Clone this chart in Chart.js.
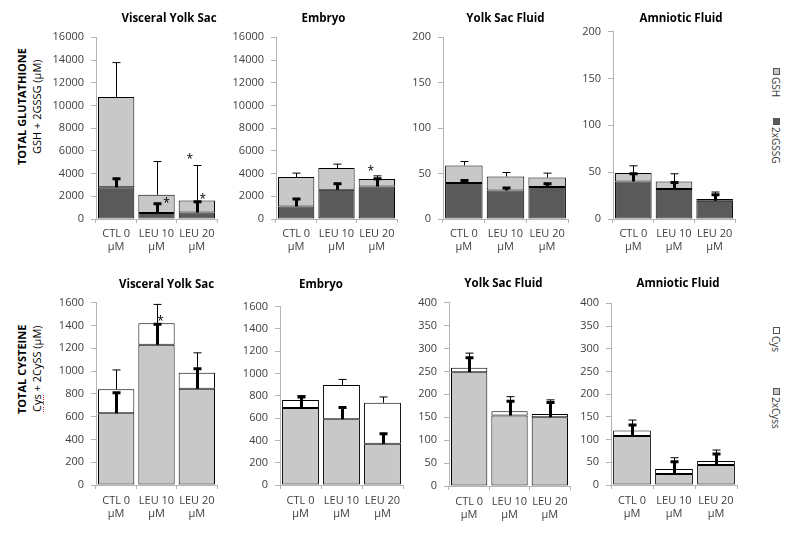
<!DOCTYPE html>
<html lang="en">
<head>
<meta charset="UTF-8">
<title>Total glutathione and cysteine</title>
<script src="https://cdn.jsdelivr.net/npm/chart.js"></script>
<style>
  body { margin: 0; background: #fff; font-family: "Open Sans", sans-serif; }
  #page { position: relative; width: 800px; height: 537px; overflow: hidden; }
  canvas { position: absolute; }
  .rowlab { position: absolute; writing-mode: vertical-rl; transform: rotate(180deg); white-space: nowrap;
            text-align: center; font-size: 11px; line-height: 15px; color: #000; }
  .rowlab b { font-size: 11px; }
  .leg { position: absolute; writing-mode: vertical-rl; font-size: 10px; color: #333; line-height: 12px; }
  .sw { display: inline-block; width: 5px; height: 5px; border: 1px solid #555; margin-bottom: 2px; }
  .spell { text-decoration: underline dotted #e02020; text-underline-position: left; }
</style>
</head>
<body>
<div id="page">
  <div class="rowlab" style="left:14px; top:27px; height:160px;"><b>TOTAL GLUTATHIONE</b><br>GSH + 2GSSG (µM)</div>
  <div class="rowlab" style="left:14px; top:289px; height:160px;"><b>TOTAL CYSTEINE</b><br><span class="spell">Cys</span> + 2CySS (µM)</div>

  <div class="leg" style="left:770px; top:68px;"><span class="sw" style="background:#c8c8c8"></span>GSH</div>
  <div class="leg" style="left:770px; top:118px;"><span class="sw" style="background:#5a5a5a"></span>2xGSSG</div>
  <div class="leg" style="left:770px; top:327px;"><span class="sw" style="background:#fff"></span>Cys</div>
  <div class="leg" style="left:770px; top:388px;"><span class="sw" style="background:#c8c8c8"></span>2xCyss</div>
</div>
<script>
    const categories = [['CTL 0', 'µM'], ['LEU 10', 'µM'], ['LEU 20', 'µM']];

    // Total glutathione: 2xGSSG (lower) and GSH (upper), µM
    const vysGSSG = [2800, 530, 580];
    const vysGSH = [7950, 1600, 1060];
    const vysGSSGsd = [740, 820, 940];
    const vysGlutSd = [3020, 2930, 3070];

    const embGSSG = [1110, 2575, 2860];
    const embGSH = [2580, 1905, 655];
    const embGSSGsd = [650, 525, 680];
    const embGlutSd = [350, 355, 285];

    const ysfGSSG = [39.5, 31.4, 35.2];
    const ysfGSH = [19.5, 15.4, 10.5];
    const ysfGSSGsd = [2.9, 2.6, 3.6];
    const ysfGlutSd = [4.3, 4.4, 4.8];

    const amfGSSG = [40, 32, 19.5];
    const amfGSH = [9, 8, 1.8];
    const amfGSSGsd = [8.3, 7, 6.5];
    const amfGlutSd = [7.8, 8.3, 7.5];

    // Total cysteine: 2xCySS (lower) and Cys (upper), µM
    const vysCySS = [630, 1230, 845];
    const vysCys = [210, 190, 140];
    const vysCySSsd = [180, 180, 175];
    const vysCystSd = [170, 165, 175];

    const embCySS = [690, 590, 370];
    const embCys = [72, 307, 368];
    const embCySSsd = [100, 105, 90];
    const embCystSd = [40, 50, 52];

    const ysfCySS = [248, 154, 150];
    const ysfCys = [10, 9, 7];
    const ysfCySSsd = [32, 31, 32];
    const ysfCystSd = [32, 32, 31];

    const amfCySS = [108, 24, 44];
    const amfCys = [12, 11, 9];
    const amfCySSsd = [24, 27, 24];
    const amfCystSd = [23, 25, 24];

    const LIGHT = '#c8c8c8';
    const DARK = '#5a5a5a';
    const AXIS = '#b4b4b4';
    Chart.defaults.font.family = '"Open Sans", sans-serif';

    // error bars: thick one on the lower segment, thin one on the stack total
    const errorBars = {
        id: 'errorBars',
        afterDatasetsDraw(chart, args, opts) {
            const ctx = chart.ctx;
            const y = chart.scales.y;
            ctx.save();
            ctx.strokeStyle = '#000';
            opts.sets.forEach(set => {
                const meta = chart.getDatasetMeta(set.ds);
                meta.data.forEach((bar, i) => {
                    let top = 0;
                    for (let d = 0; d <= set.ds; d++) top += chart.data.datasets[d].data[i];
                    const yEnd = y.getPixelForValue(top + set.sd[i]);
                    const x = set.width % 2 ? Math.round(bar.x) + 0.5 : Math.round(bar.x);
                    ctx.lineWidth = set.width;
                    ctx.beginPath();
                    ctx.moveTo(x, bar.y);
                    ctx.lineTo(x, yEnd);
                    ctx.moveTo(x - set.cap / 2, yEnd);
                    ctx.lineTo(x + set.cap / 2, yEnd);
                    ctx.stroke();
                });
            });
            ctx.restore();
        }
    };

    // significance asterisks
    const stars = {
        id: 'stars',
        afterDatasetsDraw(chart, args, opts) {
            const ctx = chart.ctx;
            const meta = chart.getDatasetMeta(0);
            ctx.save();
            ctx.fillStyle = '#000';
            ctx.font = '12px "Open Sans", sans-serif';
            ctx.textAlign = 'center';
            ctx.textBaseline = 'middle';
            (opts.list || []).forEach(s => {
                const bar = meta.data[s[0]];
                ctx.fillText('*', bar.x + s[2], chart.scales.y.getPixelForValue(s[1]) + 3);
            });
            ctx.restore();
        }
    };

    // panel title, placed where the original sits (not always centred on the plot)
    const panelTitle = {
        id: 'panelTitle',
        afterDraw(chart, args, opts) {
            const ctx = chart.ctx;
            ctx.save();
            ctx.fillStyle = '#000';
            ctx.font = 'bold 11.5px "Open Sans", sans-serif';
            ctx.textAlign = 'center';
            ctx.textBaseline = 'middle';
            ctx.fillText(opts.text, opts.x, opts.y);
            ctx.restore();
        }
    };

    const panels = [
        { title: 'Visceral Yolk Sac', tcx: 169, tcy: 19, axisX: 96, plotRight: 217, plotTop: 37.3, plotBottom: 219.3, max: 16000, step: 2000, labelPad: 4,
          lower: vysGSSG, upper: vysGSH, lowerSd: vysGSSGsd, totalSd: vysGlutSd, lowerColor: DARK, upperColor: LIGHT,
          stars: [[1, 1610, 10], [2, 5500, -7], [2, 1990, 6]] },
        { title: 'Embryo', tcx: 323.5, tcy: 19, axisX: 276, plotRight: 397, plotTop: 37.3, plotBottom: 219.3, max: 16000, step: 2000, labelPad: 4,
          lower: embGSSG, upper: embGSH, lowerSd: embGSSGsd, totalSd: embGlutSd, lowerColor: DARK, upperColor: LIGHT,
          stars: [[2, 4480, -6]] },
        { title: 'Yolk Sac Fluid', tcx: 505.5, tcy: 19, axisX: 443, plotRight: 568, plotTop: 37.3, plotBottom: 219.3, max: 200, step: 50, labelPad: 4,
          lower: ysfGSSG, upper: ysfGSH, lowerSd: ysfGSSGsd, totalSd: ysfGlutSd, lowerColor: DARK, upperColor: LIGHT, stars: [] },
        { title: 'Amniotic Fluid', tcx: 681, tcy: 19, axisX: 613, plotRight: 735, plotTop: 31.7, plotBottom: 219.3, max: 200, step: 50, labelPad: 4,
          lower: amfGSSG, upper: amfGSH, lowerSd: amfGSSGsd, totalSd: amfGlutSd, lowerColor: DARK, upperColor: LIGHT, stars: [] },

        { title: 'Visceral Yolk Sac', tcx: 166.5, tcy: 285, axisX: 96, plotRight: 217, plotTop: 302.7, plotBottom: 485.3, max: 1600, step: 200, labelPad: 5,
          lower: vysCySS, upper: vysCys, lowerSd: vysCySSsd, totalSd: vysCystSd, lowerColor: LIGHT, upperColor: '#fff',
          stars: [[1, 1464, 4]] },
        { title: 'Embryo', tcx: 321, tcy: 285, axisX: 280, plotRight: 403, plotTop: 306.7, plotBottom: 485, max: 1600, step: 200, labelPad: 5,
          lower: embCySS, upper: embCys, lowerSd: embCySSsd, totalSd: embCystSd, lowerColor: LIGHT, upperColor: '#fff', stars: [] },
        { title: 'Yolk Sac Fluid', tcx: 503.5, tcy: 284, axisX: 449, plotRight: 570, plotTop: 302.7, plotBottom: 485.7, max: 400, step: 50, labelPad: 5,
          lower: ysfCySS, upper: ysfCys, lowerSd: ysfCySSsd, totalSd: ysfCystSd, lowerColor: LIGHT, upperColor: '#fff', stars: [] },
        { title: 'Amniotic Fluid', tcx: 678, tcy: 284, axisX: 611, plotRight: 737, plotTop: 303.3, plotBottom: 485, max: 400, step: 50, labelPad: 5,
          lower: amfCySS, upper: amfCys, lowerSd: amfCySSsd, totalSd: amfCystSd, lowerColor: LIGHT, upperColor: '#fff', stars: [] }
    ];

    const page = document.getElementById('page');

    panels.forEach(p => {
        const L = p.axisX - 50;
        const T = Math.round(p.tcy - 12);
        const xAxisH = 40;
        const padRight = Math.max(8, Math.ceil(p.tcx + 60 - p.plotRight));
        const W = Math.round(p.plotRight - L + padRight);
        const H = Math.round(p.plotBottom - T) + xAxisH;

        const cv = document.createElement('canvas');
        cv.width = W;
        cv.height = H;
        cv.style.left = L + 'px';
        cv.style.top = T + 'px';
        page.appendChild(cv);

        const barStyle = { borderColor: '#000', borderWidth: 1, borderSkipped: false, categoryPercentage: 0.9, barPercentage: 1 };

        new Chart(cv, {
            type: 'bar',
            data: {
                labels: categories,
                datasets: [
                    Object.assign({ data: p.lower, backgroundColor: p.lowerColor }, barStyle),
                    Object.assign({ data: p.upper, backgroundColor: p.upperColor }, barStyle)
                ]
            },
            options: {
                responsive: false,
                animation: false,
                layout: { padding: { left: 0, right: W - (p.plotRight - L), top: p.plotTop - T, bottom: 0 } },
                plugins: {
                    legend: { display: false },
                    tooltip: { enabled: false },
                    title: { display: false },
                    panelTitle: { text: p.title, x: p.tcx - L, y: p.tcy - T },
                    errorBars: { sets: [
                        { ds: 1, sd: p.totalSd, width: 1, cap: 8 },
                        { ds: 0, sd: p.lowerSd, width: 3, cap: 8 }
                    ] },
                    stars: { list: p.stars }
                },
                scales: {
                    x: {
                        stacked: true,
                        grid: { drawOnChartArea: false, tickLength: 4, color: AXIS },
                        border: { color: AXIS },
                        ticks: { color: '#404040', font: { size: 11, lineHeight: 1.2 }, padding: p.labelPad, maxRotation: 0, autoSkip: false },
                        afterFit: s => { s.height = xAxisH; }
                    },
                    y: {
                        stacked: true,
                        min: 0,
                        max: p.max,
                        grid: { drawOnChartArea: false, tickLength: 5, color: AXIS },
                        border: { color: AXIS },
                        ticks: { stepSize: p.step, color: '#404040', font: { size: 11 }, padding: 7, callback: v => v },
                        afterFit: s => { s.width = p.axisX - L; }
                    }
                }
            },
            plugins: [errorBars, stars, panelTitle]
        });
    });
</script>
</body>
</html>
